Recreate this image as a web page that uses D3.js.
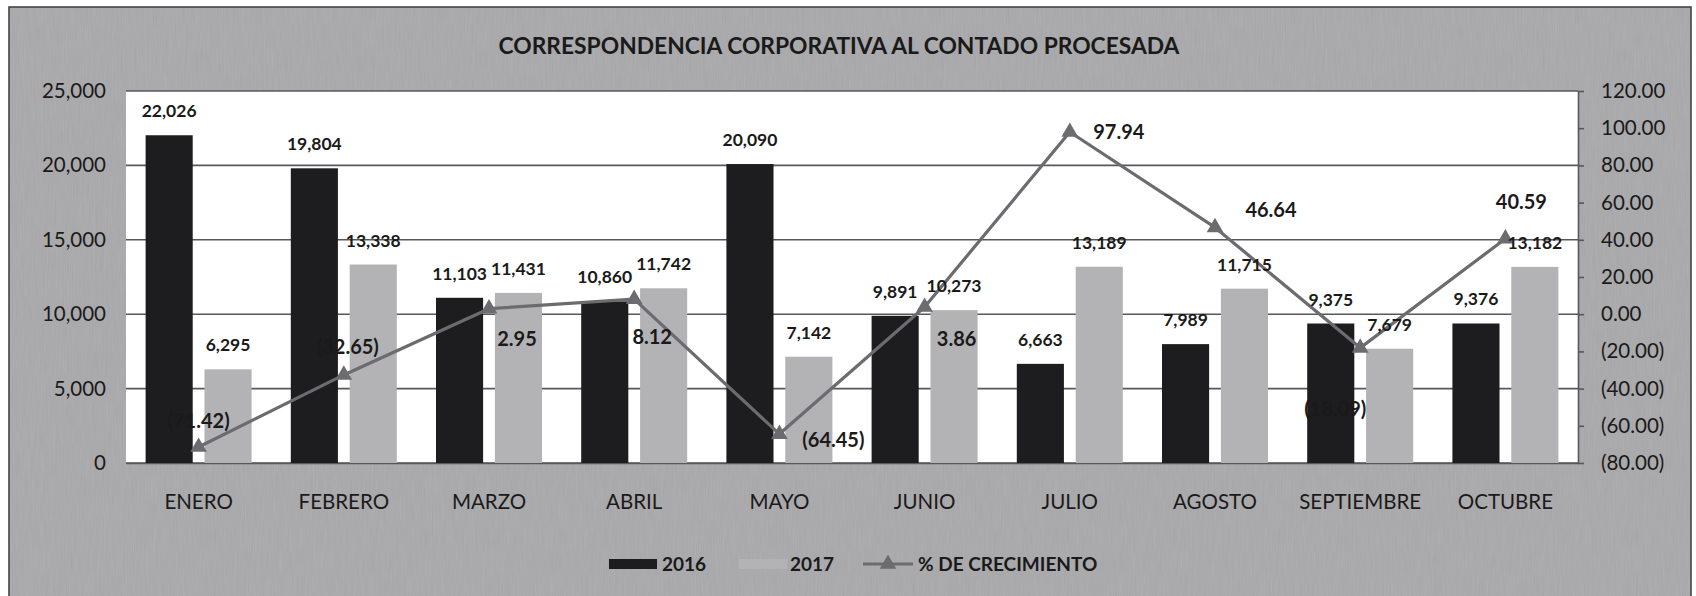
<!DOCTYPE html>
<html><head><meta charset="utf-8">
<script src="https://cdn.jsdelivr.net/npm/d3@7"></script>
<style>html,body{margin:0;padding:0;background:#fff;} svg{display:block;}</style>
</head><body>
<svg id="chart" width="1696" height="596"></svg>
<script>
// ---- data ----
const categories = ["ENERO","FEBRERO","MARZO","ABRIL","MAYO","JUNIO","JULIO","AGOSTO","SEPTIEMBRE","OCTUBRE"];
const series = ["2016","2017"];
const values2016 = [22026,19804,11103,10860,20090,9891,6663,7989,9375,9376];
const values2017 = [6295,13338,11431,11742,7142,10273,13189,11715,7679,13182];
const growth = [-71.42,-32.65,2.95,8.12,-64.45,3.86,97.94,46.64,-18.09,40.59];
const leftTicks = [0,5000,10000,15000,20000,25000];
const rightTicks = [-80,-60,-40,-20,0,20,40,60,80,100,120];
const titleText = "CORRESPONDENCIA CORPORATIVA AL CONTADO PROCESADA";
const growthName = "% DE CRECIMIENTO";

// ---- layout (not data) ----
const growthLabelOffsets = [[0,-26],[4,-28],[28,30],[18,38],[54,6],[32,32],[49,0],[56,-17],[-25,61],[16,-37]];
const plot = {left:126, right:1578, top:91, bottom:463};
const FONT = "Lato, 'Open Sans', sans-serif";
const C = {bg:"#a9a8ab", grid:"#58575b", b2016:"#1d1c1f", b2017:"#b3b2b5", line:"#6c6b6f", text:"#1a1a1a"};

const svg = d3.select("#chart");
const defs = svg.append("defs");
const f = defs.append("filter").attr("id","noise").attr("x",0).attr("y",0).attr("width","100%").attr("height","100%");
f.append("feTurbulence").attr("type","fractalNoise").attr("baseFrequency","0.9 0.04").attr("numOctaves",2).attr("seed",7);
f.append("feColorMatrix").attr("type","saturate").attr("values",0);

// background frame
svg.append("rect").attr("x",9).attr("y",7).attr("width",1682).attr("height",595).attr("fill",C.bg);
svg.append("rect").attr("x",9).attr("y",7).attr("width",1682).attr("height",595).attr("filter","url(#noise)").attr("opacity",0.13);
svg.append("rect").attr("x",9).attr("y",7).attr("width",1682).attr("height",595).attr("fill","none").attr("stroke","#444348").attr("stroke-width",1.6);

// plot area
svg.append("rect").attr("x",plot.left).attr("y",plot.top).attr("width",plot.right-plot.left).attr("height",plot.bottom-plot.top).attr("fill","#ffffff");

// scales
const x0 = d3.scaleBand().domain(categories).range([plot.left,plot.right]).paddingInner(0.27).paddingOuter(0.135);
const x1 = d3.scaleBand().domain(series).range([0,x0.bandwidth()]).paddingInner(0.2);
const yL = d3.scaleLinear().domain([0,25000]).range([plot.bottom,plot.top]);
const yR = d3.scaleLinear().domain([-80,120]).range([plot.bottom,plot.top]);

// gridlines
svg.append("g").selectAll("line").data(leftTicks).join("line")
  .attr("x1",plot.left).attr("x2",plot.right)
  .attr("y1",d=>yL(d)).attr("y2",d=>yL(d))
  .attr("stroke",C.grid).attr("stroke-width",1.6);

// left axis
const fmtL = d3.format(",");
const axL = svg.append("g").attr("transform",`translate(${plot.left-20},0)`)
  .call(d3.axisLeft(yL).tickValues(leftTicks).tickFormat(fmtL).tickSize(0).tickPadding(0));
axL.select(".domain").remove();
axL.selectAll("text").attr("font-family",FONT).attr("font-size",20.5).attr("fill",C.text);

// right axis
const fmtR = d => d < 0 ? "(" + d3.format(".2f")(-d) + ")" : d3.format(".2f")(d);
const axR = svg.append("g").attr("transform",`translate(${plot.right},0)`)
  .call(d3.axisRight(yR).tickValues(rightTicks).tickFormat(fmtR).tickSizeInner(6).tickSizeOuter(0).tickPadding(17));
axR.select(".domain").attr("stroke",C.grid).attr("stroke-width",1.6);
axR.selectAll(".tick line").attr("stroke",C.grid).attr("stroke-width",1.6);
axR.selectAll("text").attr("font-family",FONT).attr("font-size",20.5).attr("fill",C.text);

// bottom axis
const axB = svg.append("g").attr("transform",`translate(0,${plot.bottom})`)
  .call(d3.axisBottom(x0).tickSize(0).tickPadding(31));
axB.select(".domain").attr("stroke",C.grid).attr("stroke-width",1.6);
axB.selectAll("text").attr("font-family",FONT).attr("font-size",20.5).attr("fill",C.text);

// bars
const rows = categories.map((c,i)=>({c, v:[values2016[i], values2017[i]]}));
const colors = [C.b2016, C.b2017];
const gBars = svg.append("g");
rows.forEach(r=>{
  series.forEach((s,j)=>{
    gBars.append("rect")
      .attr("x",x0(r.c)+x1(s)).attr("width",x1.bandwidth())
      .attr("y",yL(r.v[j])).attr("height",yL(0)-yL(r.v[j]))
      .attr("fill",colors[j]);
  });
});

// growth line
const cx = c => x0(c)+x0.bandwidth()/2;
const pts = categories.map((c,i)=>[cx(c), yR(growth[i])]);
svg.append("path").attr("d",d3.line()(pts)).attr("fill","none").attr("stroke",C.line).attr("stroke-width",3.2).attr("stroke-linejoin","round");
const tri = d3.symbol().type(d3.symbolTriangle).size(120);
svg.append("g").selectAll("path").data(pts).join("path")
  .attr("d",tri).attr("transform",d=>`translate(${d[0]},${d[1]})`).attr("fill",C.line);

// bar labels
const gLab = svg.append("g").attr("font-family",FONT).attr("font-weight","bold").attr("fill",C.text).attr("text-anchor","middle");
rows.forEach(r=>{
  series.forEach((s,j)=>{
    gLab.append("text").attr("font-size",17.5).attr("x",x0(r.c)+x1(s)+x1.bandwidth()/2).attr("y",yL(r.v[j])-18).text(fmtL(r.v[j]));
  });
});
// growth labels
const fmtG = d => d < 0 ? "(" + d3.format(".2f")(-d) + ")" : d3.format(".2f")(d);
pts.forEach((p,i)=>{
  gLab.append("text").attr("font-size",20).attr("x",p[0]+growthLabelOffsets[i][0]).attr("y",p[1]+growthLabelOffsets[i][1]+7).text(fmtG(growth[i]));
});

// title
svg.append("text").attr("x",839).attr("y",54).attr("text-anchor","middle")
  .attr("font-family",FONT).attr("font-weight","bold").attr("font-size",22.8).attr("fill",C.text).text(titleText);

// legend
const lg = svg.append("g").attr("font-family",FONT).attr("font-weight","bold").attr("font-size",19).attr("fill",C.text);
lg.append("rect").attr("x",609).attr("y",559).attr("width",48).attr("height",10).attr("fill",C.b2016);
lg.append("text").attr("x",662).attr("y",571).text(series[0]);
lg.append("rect").attr("x",739).attr("y",559).attr("width",48).attr("height",10).attr("fill",C.b2017);
lg.append("text").attr("x",790).attr("y",571).text(series[1]);
lg.append("line").attr("x1",863).attr("x2",913).attr("y1",564).attr("y2",564).attr("stroke",C.line).attr("stroke-width",3.2);
lg.append("path").attr("d",tri).attr("transform","translate(888,564)").attr("fill",C.line);
lg.append("text").attr("x",918).attr("y",571).text(growthName);
</script>
</body></html>
